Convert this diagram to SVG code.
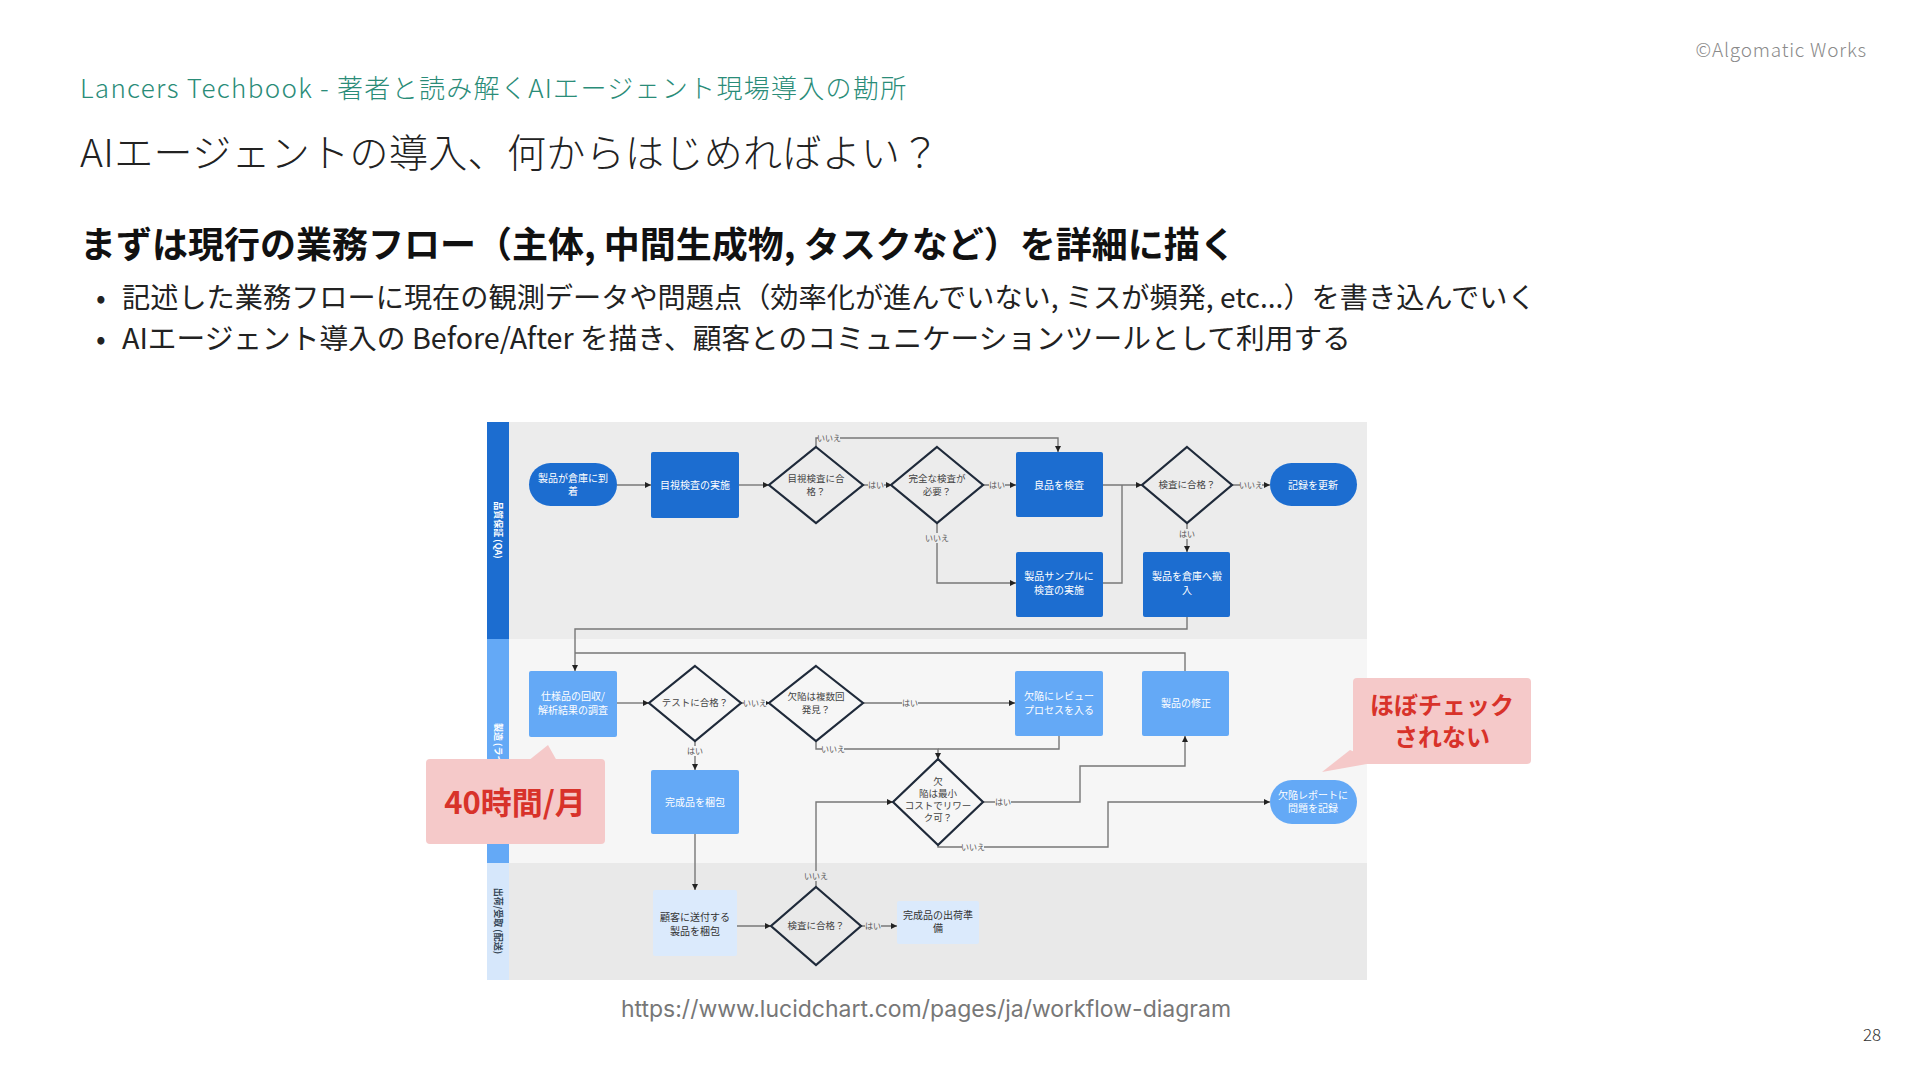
<svg xmlns="http://www.w3.org/2000/svg" width="1920" height="1080" viewBox="0 0 1920 1080">
<style>
.jp{font-family:"Noto Sans CJK JP","Noto Sans",sans-serif}
.hdr{font-size:26px;fill:#2a8c78;font-weight:300;letter-spacing:1.3px}
.title{font-size:39px;fill:#222;font-weight:300;letter-spacing:0.35px}
.h2{font-size:36px;fill:#111;font-weight:700}
.bul{font-size:28.5px;fill:#222}
.nt{font-size:10px;fill:#fff;text-anchor:middle}
.nd{font-size:10px;fill:#333;text-anchor:middle}
.dt{font-size:9.5px;fill:#444;text-anchor:middle}
.lbl{font-size:8px;fill:#555;text-anchor:middle}
.ln{fill:#fff;font-size:9px;text-anchor:middle;font-weight:700}
.c1{fill:#1c6dd0}
.c2{fill:#64a9f6}
.c3{fill:#dbeafc}
.dia{fill:none;stroke:#1f2a3a;stroke-width:2.2}
.con{fill:none;stroke:#777;stroke-width:1.4}
.call{fill:#f5c9c9}
.ct{font-weight:700;fill:#d8322a;text-anchor:middle}
</style>
<defs>
<marker id="ar" viewBox="0 0 6 6" refX="6" refY="3" markerWidth="6" markerHeight="6" orient="auto" markerUnits="userSpaceOnUse">
<path d="M0,0 L6,3 L0,6 z" fill="#222"/>
</marker>
</defs>
<rect width="1920" height="1080" fill="#fff"/>

<text class="jp" x="1867" y="57" font-size="19" fill="#8a8a8a" text-anchor="end" font-weight="300" letter-spacing="0.8">©Algomatic Works</text>
<text class="jp hdr" x="80" y="98">Lancers Techbook - 著者と読み解くAIエージェント現場導入の勘所</text>
<text class="jp title" x="80" y="167">AIエージェントの導入、何からはじめればよい？</text>
<text class="jp h2" x="80" y="258">まずは現行の業務フロー（主体, 中間生成物, タスクなど）を詳細に描く</text>
<text class="jp bul" x="96" y="308">•</text>
<text class="jp bul" x="122" y="308" style="font-size:28.2px">記述した業務フローに現在の観測データや問題点（効率化が進んでいない, ミスが頻発, etc...）を書き込んでいく</text>
<text class="jp bul" x="96" y="349">•</text>
<text class="jp bul" x="122" y="349" style="font-size:28.7px">AIエージェント導入の Before/After を描き、顧客とのコミュニケーションツールとして利用する</text>

<g id="lanes">
<rect x="509" y="422" width="858" height="217" fill="#ececec"/>
<rect x="509" y="639" width="858" height="224" fill="#f6f6f6"/>
<rect x="509" y="863" width="858" height="117" fill="#e9e9e9"/>
<rect x="487" y="422" width="22" height="217" fill="#1c6dd0"/>
<rect x="487" y="639" width="22" height="224" fill="#64a9f6"/>
<rect x="487" y="863" width="22" height="117" fill="#d6e7fb"/>
<text class="jp ln" transform="translate(498,530) rotate(90)" dy="3">品質保証 (QA)</text>
<text class="jp ln" transform="translate(498,750) rotate(90)" dy="3">製造 (ライン)</text>
<text class="jp ln" transform="translate(498,921) rotate(90)" dy="3" style="fill:#345">出荷/受取 (配送)</text>
</g>

<g id="connectors">
<path class="con" d="M617,485 H651" marker-end="url(#ar)"/>
<path class="con" d="M739,485 H769" marker-end="url(#ar)"/>
<path class="con" d="M863,485 H892" marker-end="url(#ar)"/>
<path class="con" d="M816,447 V438 H1058 V452" marker-end="url(#ar)"/>
<path class="con" d="M983,485 H1016" marker-end="url(#ar)"/>
<path class="con" d="M937,523 V583 H1016" marker-end="url(#ar)"/>
<path class="con" d="M1103,485 H1142" marker-end="url(#ar)"/>
<path class="con" d="M1103,583 H1122 V485"/>
<path class="con" d="M1232,485 H1270" marker-end="url(#ar)"/>
<path class="con" d="M1187,523 V552" marker-end="url(#ar)"/>
<path class="con" d="M1187,617 V629 H575 V671" marker-end="url(#ar)"/>
<path class="con" d="M1185,671 V653 H575"/>
<path class="con" d="M617,703 H649" marker-end="url(#ar)"/>
<path class="con" d="M741,703 H770" marker-end="url(#ar)"/>
<path class="con" d="M695,741 V770" marker-end="url(#ar)"/>
<path class="con" d="M863,703 H1015" marker-end="url(#ar)"/>
<path class="con" d="M816,741 V749 H938 V759" marker-end="url(#ar)"/>
<path class="con" d="M1059,736 V749 H938"/>
<path class="con" d="M983,802 H1080 V766 H1185 V736" marker-end="url(#ar)"/>
<path class="con" d="M938,845 V847 H1108 V802 H1270" marker-end="url(#ar)"/>
<path class="con" d="M695,834 V890" marker-end="url(#ar)"/>
<path class="con" d="M816,887 V802 H893" marker-end="url(#ar)"/>
<path class="con" d="M737,926 H771" marker-end="url(#ar)"/>
<path class="con" d="M861,926 H897" marker-end="url(#ar)"/>
<g class="jp">
<rect x="818" y="433" width="22" height="10" fill="#ececec"/><text class="lbl" x="829" y="441">いいえ</text>
<rect x="868" y="480" width="16" height="10" fill="#ececec"/><text class="lbl" x="876" y="488">はい</text>
<rect x="926" y="533" width="22" height="10" fill="#ececec"/><text class="lbl" x="937" y="541">いいえ</text>
<rect x="989" y="480" width="16" height="10" fill="#ececec"/><text class="lbl" x="997" y="488">はい</text>
<rect x="1240" y="480" width="22" height="10" fill="#ececec"/><text class="lbl" x="1251" y="488">いいえ</text>
<rect x="1179" y="529" width="16" height="10" fill="#ececec"/><text class="lbl" x="1187" y="537">はい</text>
<rect x="744" y="698" width="22" height="10" fill="#f6f6f6"/><text class="lbl" x="755" y="706">いいえ</text>
<rect x="687" y="746" width="16" height="10" fill="#f6f6f6"/><text class="lbl" x="695" y="754">はい</text>
<rect x="902" y="698" width="16" height="10" fill="#f6f6f6"/><text class="lbl" x="910" y="706">はい</text>
<rect x="822" y="744" width="22" height="10" fill="#f6f6f6"/><text class="lbl" x="833" y="752">いいえ</text>
<rect x="995" y="797" width="16" height="10" fill="#f6f6f6"/><text class="lbl" x="1003" y="805">はい</text>
<rect x="962" y="842" width="22" height="10" fill="#f6f6f6"/><text class="lbl" x="973" y="850">いいえ</text>
<rect x="805" y="871" width="22" height="10" fill="#e9e9e9"/><text class="lbl" x="816" y="879">いいえ</text>
<rect x="865" y="921" width="16" height="10" fill="#e9e9e9"/><text class="lbl" x="873" y="929">はい</text>
</g>
</g>

<g id="n-arrive"><rect class="c1" x="529" y="463" width="88" height="43" rx="21.5"/><text class="jp nt" x="573" y="482">製品が倉庫に到</text><text class="jp nt" x="573" y="495">着</text></g>
<g id="n-visual"><rect class="c1" x="651" y="452" width="88" height="66" rx="2"/><text class="jp nt" x="695" y="489">目視検査の実施</text></g>
<g id="n-d1"><polygon class="dia" points="816,447 863,485 816,523 769,485"/><text class="jp dt" x="816" y="482">目視検査に合</text><text class="jp dt" x="816" y="495">格？</text></g>
<g id="n-d2"><polygon class="dia" points="937,447 983,485 937,523 891,485"/><text class="jp dt" x="937" y="482">完全な検査が</text><text class="jp dt" x="937" y="495">必要？</text></g>
<g id="n-good"><rect class="c1" x="1016" y="452" width="87" height="65" rx="2"/><text class="jp nt" x="1059" y="489">良品を検査</text></g>
<g id="n-sample"><rect class="c1" x="1016" y="552" width="87" height="65" rx="2"/><text class="jp nt" x="1059" y="580">製品サンプルに</text><text class="jp nt" x="1059" y="594">検査の実施</text></g>
<g id="n-d3"><polygon class="dia" points="1187,447 1232,485 1187,523 1142,485"/><text class="jp dt" x="1187" y="488">検査に合格？</text></g>
<g id="n-record"><rect class="c1" x="1270" y="463" width="87" height="43" rx="21.5"/><text class="jp nt" x="1313" y="489">記録を更新</text></g>
<g id="n-store"><rect class="c1" x="1143" y="552" width="87" height="65" rx="2"/><text class="jp nt" x="1187" y="580">製品を倉庫へ搬</text><text class="jp nt" x="1187" y="594">入</text></g>

<g id="n-collect"><rect class="c2" x="529" y="671" width="88" height="66" rx="2"/><text class="jp nt" x="573" y="700">仕様品の回収/</text><text class="jp nt" x="573" y="714">解析結果の調査</text></g>
<g id="n-test"><polygon class="dia" points="695,666 741,703 695,741 649,703"/><text class="jp dt" x="695" y="706">テストに合格？</text></g>
<g id="n-defect"><polygon class="dia" points="816,666 863,703 816,741 769,703"/><text class="jp dt" x="816" y="700">欠陥は複数回</text><text class="jp dt" x="816" y="713">発見？</text></g>
<g id="n-review"><rect class="c2" x="1015" y="671" width="88" height="65" rx="2"/><text class="jp nt" x="1059" y="700">欠陥にレビュー</text><text class="jp nt" x="1059" y="714">プロセスを入る</text></g>
<g id="n-fix"><rect class="c2" x="1142" y="671" width="87" height="65" rx="2"/><text class="jp nt" x="1186" y="707">製品の修正</text></g>
<g id="n-pack"><rect class="c2" x="651" y="770" width="88" height="64" rx="2"/><text class="jp nt" x="695" y="806">完成品を梱包</text></g>
<g id="n-cost"><polygon class="dia" points="938,759 983,802 938,845 893,802"/><text class="jp dt" x="938" y="785">欠</text><text class="jp dt" x="938" y="797">陥は最小</text><text class="jp dt" x="938" y="809">コストでリワー</text><text class="jp dt" x="938" y="821">ク可？</text></g>
<g id="n-report"><rect class="c2" x="1270" y="780" width="87" height="44" rx="22"/><text class="jp nt" x="1313" y="799">欠陥レポートに</text><text class="jp nt" x="1313" y="812">問題を記録</text></g>

<g id="n-ship"><rect class="c3" x="653" y="890" width="84" height="66" rx="2"/><text class="jp nd" x="695" y="921">顧客に送付する</text><text class="jp nd" x="695" y="935">製品を梱包</text></g>
<g id="n-d4"><polygon class="dia" points="816,887 861,926 816,965 771,926"/><text class="jp dt" x="816" y="929">検査に合格？</text></g>
<g id="n-prep"><rect class="c3" x="897" y="901" width="82" height="43" rx="2"/><text class="jp nd" x="938" y="919">完成品の出荷準</text><text class="jp nd" x="938" y="932">備</text></g>

<g id="callout-40">
<polygon class="call" points="528,761 548,745 557,761"/>
<rect class="call" x="426" y="759" width="179" height="85" rx="4"/>
<text class="jp ct" x="515" y="814" font-size="31">40時間/月</text>
</g>
<g id="callout-check">
<polygon class="call" points="1350,750 1322,772 1378,762"/>
<rect class="call" x="1353" y="678" width="178" height="86" rx="4"/>
<text class="jp ct" x="1442" y="714" font-size="24">ほぼチェック</text>
<text class="jp ct" x="1442" y="746" font-size="24">されない</text>
</g>

<text x="926" y="1017" font-family="Inter, 'Liberation Sans', sans-serif" font-size="23" fill="#777" text-anchor="middle">https://www.lucidchart.com/pages/ja/workflow-diagram</text>
<text class="jp" x="1872" y="1041" font-size="17" fill="#333" text-anchor="middle" font-weight="300">28</text>
</svg>
